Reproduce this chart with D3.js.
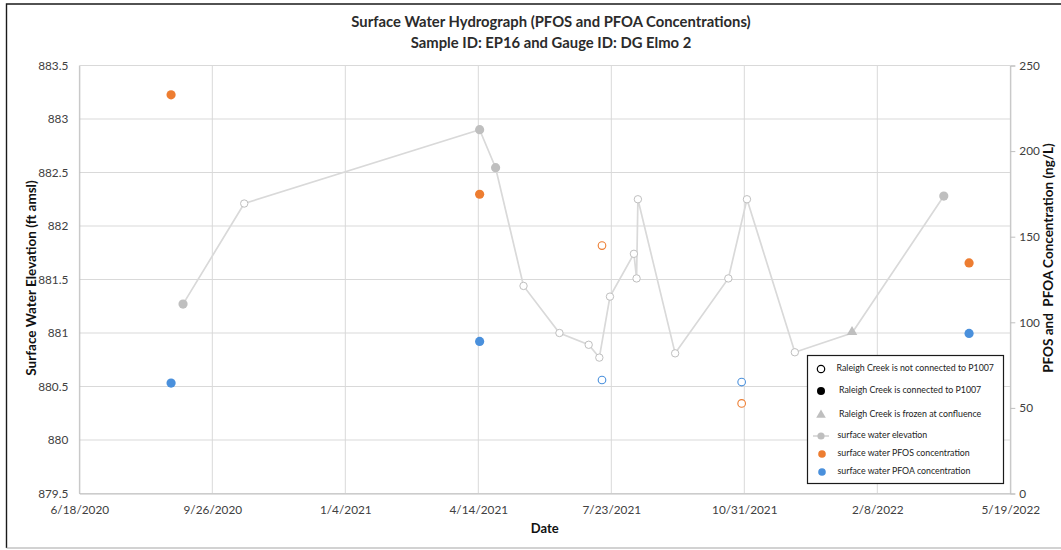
<!DOCTYPE html>
<html><head><meta charset="utf-8">
<script src="https://cdn.jsdelivr.net/npm/d3@7"></script>
<style>
body{margin:0;background:#fff;}
text{font-family:Lato,"Open Sans",sans-serif;fill:#404040;}
</style>
</head><body><svg id="chart" width="1061" height="550"></svg>
<script>
// ---------- data ----------
const xTickLabels = ["6/18/2020","9/26/2020","1/4/2021","4/14/2021","7/23/2021","10/31/2021","2/8/2022","5/19/2022"];
const leftTickLabels = ["879.5","880","880.5","881","881.5","882","882.5","883","883.5"];
const rightTickLabels = ["0","50","100","150","200","250"];

const elevDates = ["9/4/2020","10/20/2020","4/15/2021","4/27/2021","5/18/2021","6/14/2021","7/6/2021","7/14/2021","7/22/2021","8/9/2021","8/11/2021","8/12/2021","9/9/2021","10/19/2021","11/2/2021","12/8/2021","1/20/2022","3/30/2022"];
const elevValues = [881.27,882.21,882.90,882.545,881.44,881.00,880.89,880.77,881.34,881.74,881.51,882.25,880.81,881.51,882.25,880.82,881.00,882.28];
const elevStatus = ["connected","not connected","connected","connected","not connected","not connected","not connected","not connected","not connected","not connected","not connected","not connected","not connected","not connected","not connected","not connected","frozen","connected"];

const concDates = ["8/26/2020","4/15/2021","7/16/2021","10/29/2021","4/18/2022"];
const pfosValues = [232.9,174.8,144.8,52.6,134.7];
const pfoaValues = [64.5,88.8,66.3,65.1,93.5];
const concStatus = ["connected","connected","not connected","not connected","connected"];

const legendLabels = ["Raleigh Creek is not connected to P1007","Raleigh Creek is connected to P1007","Raleigh Creek is frozen at confluence","surface water elevation","surface water PFOS concentration","surface water PFOA concentration"];

const titleLines = ["Surface Water Hydrograph (PFOS and PFOA Concentrations)","Sample ID: EP16 and Gauge ID: DG Elmo 2"];

// ---------- setup ----------
const parse = d3.utcParse("%m/%d/%Y");
const svg = d3.select("#chart");
const W = 1061, H = 550;
const plot = {left:79.3, right:1010.3, top:65.5, bottom:493.5};
const grey = "#bfbfbf", lineGrey = "#d9d9d9", orange = "#ed7d31", blue = "#4a90dc";

const xTicks = xTickLabels.map(parse);
const x = d3.scaleUtc().domain([xTicks[0], xTicks[xTicks.length-1]]).range([plot.left, plot.right]);
const yL = d3.scaleLinear().domain([879.5, 883.5]).range([plot.bottom, plot.top]);
const yR = d3.scaleLinear().domain([0, 250]).range([plot.bottom, plot.top]);

// outer border
svg.append("rect").attr("x",0).attr("y",0).attr("width",W).attr("height",H).attr("fill","#fff");
svg.append("path").attr("d",`M${W},4H6.5V548`).attr("fill","none").attr("stroke","#1a1a1a").attr("stroke-width",1.4);
svg.append("line").attr("x1",6.5).attr("x2",W).attr("y1",548).attr("y2",548).attr("stroke","#a6a6a6").attr("stroke-width",1.2);

// gridlines
const gH = svg.append("g");
leftTickLabels.forEach(t => {
  const v = +t;
  gH.append("line").attr("x1",plot.left).attr("x2",plot.right).attr("y1",yL(v)).attr("y2",yL(v))
    .attr("stroke", lineGrey).attr("stroke-width",1);
});
xTicks.forEach(d => {
  gH.append("line").attr("x1",x(d)).attr("x2",x(d)).attr("y1",plot.top).attr("y2",plot.bottom)
    .attr("stroke", lineGrey).attr("stroke-width",1);
});

// axes via d3
const axL = svg.append("g").attr("transform",`translate(${plot.left},0)`)
  .call(d3.axisLeft(yL).tickValues(leftTickLabels.map(Number)).tickSize(0).tickPadding(11).tickFormat((d,i)=>leftTickLabels[i]));
axL.select(".domain").attr("stroke",grey);
axL.selectAll("text").attr("font-size",11.8).attr("fill","#404040").attr("font-family","Lato");

const axR = svg.append("g").attr("transform",`translate(${plot.right},0)`)
  .call(d3.axisRight(yR).tickValues(rightTickLabels.map(Number)).tickSize(5).tickPadding(4).tickFormat((d,i)=>rightTickLabels[i]));
axR.select(".domain").attr("stroke",grey);
axR.selectAll("line").attr("stroke",grey);
axR.selectAll("text").attr("font-size",11.8).attr("fill","#404040").attr("font-family","Lato");

const axB = svg.append("g").attr("transform",`translate(0,${plot.bottom})`)
  .call(d3.axisBottom(x).tickValues(xTicks).tickSize(0).tickPadding(12).tickFormat((d,i)=>xTickLabels[i]));
axB.select(".domain").attr("stroke",grey);
axB.selectAll("text").attr("font-size",11.8).attr("fill","#404040").attr("font-family","Lato");

// elevation line
const elev = elevDates.map((d,i)=>({date:parse(d), v:elevValues[i], s:elevStatus[i]}));
svg.append("path").datum(elev)
  .attr("d", d3.line().x(d=>x(d.date)).y(d=>yL(d.v)))
  .attr("fill","none").attr("stroke",lineGrey).attr("stroke-width",1.7);

const gE = svg.append("g");
elev.forEach(d => {
  if (d.s === "frozen") {
    gE.append("path").attr("d", d3.symbol().type(d3.symbolTriangle).size(48)())
      .attr("transform",`translate(${x(d.date)},${yL(d.v)-1})`).attr("fill",grey);
  } else if (d.s === "connected") {
    gE.append("circle").attr("cx",x(d.date)).attr("cy",yL(d.v)).attr("r",4.6).attr("fill",grey);
  } else {
    gE.append("circle").attr("cx",x(d.date)).attr("cy",yL(d.v)).attr("r",3.7)
      .attr("fill","#fff").attr("stroke",grey).attr("stroke-width",1);
  }
});

// concentrations
function drawConc(vals, color){
  const g = svg.append("g");
  vals.forEach((v,i) => {
    const cx = x(parse(concDates[i])), cy = yR(v);
    if (concStatus[i] === "connected") {
      g.append("circle").attr("cx",cx).attr("cy",cy).attr("r",4.6).attr("fill",color);
    } else {
      g.append("circle").attr("cx",cx).attr("cy",cy).attr("r",3.8)
        .attr("fill","#fff").attr("stroke",color).attr("stroke-width",1.1);
    }
  });
}
drawConc(pfosValues, orange);
drawConc(pfoaValues, blue);

// titles
svg.append("text").attr("x",551).attr("y",27).attr("text-anchor","middle")
  .attr("font-size",14.8).attr("font-weight","bold").style("fill","#2b2b2b").text(titleLines[0]);
svg.append("text").attr("x",551).attr("y",48).attr("text-anchor","middle")
  .attr("font-size",14.8).attr("font-weight","bold").style("fill","#2b2b2b").text(titleLines[1]);
svg.append("text").attr("x",(plot.left+plot.right)/2).attr("y",533).attr("text-anchor","middle")
  .attr("font-size",13).attr("font-weight","bold").style("fill","#111").text("Date");
svg.append("text").attr("transform","translate(36,278) rotate(-90)").attr("text-anchor","middle")
  .attr("font-size",13.5).attr("font-weight","bold").style("fill","#111").text("Surface Water Elevation (ft amsl)");
svg.append("text").attr("transform","translate(1053,258) rotate(-90)").attr("text-anchor","middle")
  .attr("font-size",13.5).attr("font-weight","bold").style("fill","#111").attr("xml:space","preserve")
  .text("PFOS and  PFOA Concentration (ng/L)");

// legend
const lg = svg.append("g");
lg.append("rect").attr("x",807.5).attr("y",355.5).attr("width",196).attr("height",128)
  .attr("fill","#fff").attr("stroke","#1a1a1a").attr("stroke-width",1.2);
const legY = [369, 391, 415, 436, 454, 472];
const legTX = [836.5, 839, 839, 837.5, 837.5, 837.5];
legendLabels.forEach((t,i) => {
  const cy = legY[i], cx = 821;
  if (i === 0) lg.append("circle").attr("cx",cx).attr("cy",cy).attr("r",3.7).attr("fill","#fff").attr("stroke","#000").attr("stroke-width",1.2);
  if (i === 1) lg.append("circle").attr("cx",cx).attr("cy",cy).attr("r",4).attr("fill","#000");
  if (i === 2) lg.append("path").attr("d",d3.symbol().type(d3.symbolTriangle).size(40)()).attr("transform",`translate(${cx},${cy})`).attr("fill",grey);
  if (i === 3) {
    lg.append("line").attr("x1",813).attr("x2",829).attr("y1",cy).attr("y2",cy).attr("stroke",lineGrey).attr("stroke-width",1.8);
    lg.append("circle").attr("cx",cx).attr("cy",cy).attr("r",3.6).attr("fill",grey);
  }
  if (i === 4) lg.append("circle").attr("cx",cx+1).attr("cy",cy).attr("r",3.8).attr("fill",orange);
  if (i === 5) lg.append("circle").attr("cx",cx+1).attr("cy",cy).attr("r",3.8).attr("fill",blue);
  lg.append("text").attr("x",legTX[i]).attr("y",cy - 1).attr("dy","0.35em")
    .attr("font-size",8.8).style("fill","#222").text(t);
});
</script></body></html>
